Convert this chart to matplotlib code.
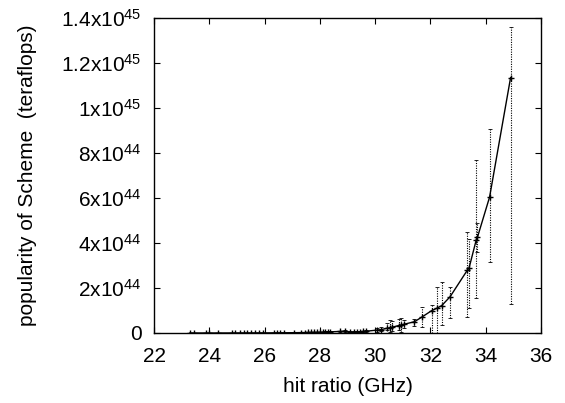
import numpy as np
import matplotlib
matplotlib.use("Agg")
import matplotlib.pyplot as plt
from matplotlib.ticker import FuncFormatter

plt.rcParams['font.family'] = ['Liberation Sans', 'DejaVu Sans']
plt.rcParams['mathtext.fontset'] = 'custom'
plt.rcParams['mathtext.rm'] = 'Liberation Sans'

# hit ratio (GHz)
hit_ratio = [23.30, 23.46, 23.88, 24.00, 24.32, 24.81, 24.93, 25.10, 25.25, 25.37,
             25.50, 25.65, 25.80, 25.93, 26.34, 26.45, 26.56, 26.70, 27.06, 27.32,
             27.46, 27.57, 27.68, 27.80, 27.90, 28.02, 28.10, 28.18, 28.28, 28.35,
             28.73, 28.90, 29.10, 29.22, 29.35, 29.45, 29.56, 29.68, 30.08, 30.22,
             30.42, 30.52, 30.62, 30.85, 30.95, 31.05, 31.42, 31.68, 32.04, 32.23,
             32.41, 32.71, 33.34, 33.40, 33.66, 33.70, 34.14, 34.90]

# popularity, in units of 1e44 teraflops
popularity = [0.0004, 0.0005, 0.0007, 0.0008, 0.0011, 0.0017, 0.0019, 0.0022, 0.0026, 0.0029,
              0.0033, 0.0038, 0.0044, 0.005, 0.0073, 0.0081, 0.009, 0.0103, 0.0143, 0.018,
              0.021, 0.023, 0.026, 0.029, 0.032, 0.036, 0.039, 0.042, 0.046, 0.05,
              0.07, 0.08, 0.04, 0.045, 0.05, 0.06, 0.07, 0.08, 0.13, 0.15,
              0.21, 0.23, 0.26, 0.33, 0.36, 0.39, 0.50, 0.70, 0.99, 1.10,
              1.22, 1.61, 2.80, 2.90, 4.15, 4.25, 6.04, 11.35]

# error bar ends (same units)
err_low = [0.0002, 0.0003, 0.0004, 0.0005, 0.0006, 0.0010, 0.0011, 0.0013, 0.0015, 0.0017,
           0.0019, 0.0022, 0.0025, 0.003, 0.004, 0.005, 0.005, 0.006, 0.008, 0.010,
           0.012, 0.013, 0.015, 0.017, 0.018, 0.020, 0.022, 0.024, 0.026, 0.03,
           0.04, 0.04, 0.02, 0.02, 0.03, 0.03, 0.04, 0.04, 0.05, 0.08,
           0.12, 0.06, 0.10, 0.15, 0.06, 0.20, 0.30, 0.28, 0.00, 0.00,
           0.36, 0.65, 0.72, 1.10, 1.54, 3.60, 3.17, 1.30]
err_high = [0.0007, 0.0008, 0.0011, 0.0013, 0.0018, 0.0027, 0.0030, 0.0035, 0.0042, 0.0046,
            0.0053, 0.0061, 0.0070, 0.008, 0.012, 0.013, 0.015, 0.017, 0.023, 0.029,
            0.034, 0.037, 0.042, 0.047, 0.052, 0.058, 0.063, 0.068, 0.074, 0.08,
            0.11, 0.13, 0.07, 0.08, 0.08, 0.10, 0.11, 0.13, 0.22, 0.28,
            0.45, 0.58, 0.55, 0.60, 0.67, 0.58, 0.62, 1.17, 1.25, 2.06,
            2.28, 2.06, 4.50, 4.20, 7.69, 4.90, 9.06, 13.60]

scale = 1e44
x = np.array(hit_ratio)
y = np.array(popularity) * scale
lo = y - np.array(err_low) * scale
hi = np.array(err_high) * scale - y

fig = plt.figure(figsize=(5.65, 4.03), dpi=100)
ax = fig.add_axes([0.2726, 0.1737, 0.6849, 0.7816])

eb = ax.errorbar(x, y, yerr=[lo, hi], fmt='none', ecolor='black', elinewidth=0.8,
                 capsize=1.5, capthick=0.6)
eb[2][0].set_linestyle((0, (1, 1.2)))
ax.plot(x, y, color='black', linewidth=1.0, marker='+', markersize=5, markeredgewidth=1.0)

ax.set_xlim(22, 36)
ax.set_ylim(0, 1.4e45)
ax.set_xticks(np.arange(22, 37, 2))
ax.set_yticks(np.arange(0, 1.41e45, 2e44))


def yfmt(v, pos):
    if v == 0:
        return '0'
    e = int(np.floor(np.log10(v) + 1e-9))
    m = v / 10 ** e
    ms = ('%.1f' % m).rstrip('0').rstrip('.')
    return r'$\mathregular{%sx10^{%d}}$' % (ms, e)


ax.yaxis.set_major_formatter(FuncFormatter(yfmt))
ax.tick_params(direction='in', length=4.5, width=0.8, labelsize=15, top=True, right=True)
ax.tick_params(axis='x', pad=10)
ax.tick_params(axis='y', pad=9)
for s in ax.spines.values():
    s.set_linewidth(1.0)

ax.set_xlabel('hit ratio (GHz)', fontsize=15, labelpad=8)
ax.set_ylabel('popularity of Scheme  (teraflops)', fontsize=15, labelpad=17)

fig.savefig('out.png', dpi=100)
